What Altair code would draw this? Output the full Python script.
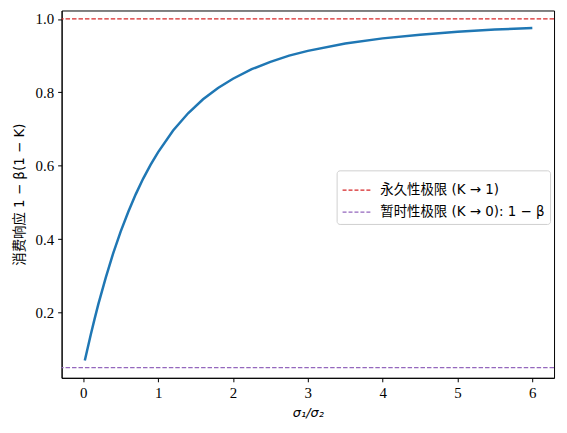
import altair as alt
import pandas as pd

# Curve
x_ratio = [0.02, 0.05, 0.1, 0.15, 0.2, 0.3, 0.4, 0.5, 0.6, 0.7, 0.8, 0.9, 1.0,
           1.2, 1.4, 1.6, 1.8, 2.0, 2.25, 2.5, 2.75, 3.0, 3.5, 4.0, 4.5, 5.0, 5.5, 6.0]
response = [0.069, 0.096, 0.140, 0.182, 0.222, 0.295, 0.362, 0.421, 0.474, 0.522,
            0.565, 0.603, 0.637, 0.696, 0.743, 0.781, 0.812, 0.837, 0.863, 0.883,
            0.900, 0.913, 0.933, 0.947, 0.957, 0.965, 0.971, 0.975]

# Reference lines
limit_names = ["永久性极限 (K → 1)", "暂时性极限 (K → 0): 1 − β"]
limit_values = [1.0, 0.05]
limit_colors = ["#d62728", "#9467bd"]

x_ticks = [0, 1, 2, 3, 4, 5, 6]
y_ticks = [0.2, 0.4, 0.6, 0.8, 1.0]

curve_df = pd.DataFrame({"x": x_ratio, "y": response})
lim_df = pd.DataFrame({"name": limit_names, "y": limit_values})

SERIF = "Liberation Serif, Noto Sans CJK SC"
MATH = "DejaVu Sans, Noto Sans CJK SC"

xs = alt.Scale(domain=[-0.29, 6.29], nice=False, zero=False)
ys = alt.Scale(domain=[0.022, 1.023], nice=False, zero=False)

curve = alt.Chart(curve_df).mark_line(color="#1f77b4", strokeWidth=2.5).encode(
    x=alt.X("x:Q", scale=xs,
            axis=alt.Axis(title="σ₁/σ₂", values=x_ticks, format="d", grid=False,
                          titlePadding=6, titleFont="DejaVu Sans",
                          titleFontStyle="italic", titleFontSize=13)),
    y=alt.Y("y:Q", scale=ys,
            axis=alt.Axis(title="消费响应 1 − β(1 − K)", values=y_ticks, format=".1f",
                          grid=False, titlePadding=9, titleFont=MATH,
                          titleFontSize=13.5)),
)

rules = alt.Chart(lim_df).mark_rule(strokeWidth=1.2, strokeDash=[4.5, 2]).encode(
    y=alt.Y("y:Q", scale=ys),
    color=alt.Color(
        "name:N",
        scale=alt.Scale(domain=limit_names, range=limit_colors),
        legend=alt.Legend(
            title=None, orient="none", legendX=277, legendY=161,
            symbolType="stroke", symbolSize=784, symbolStrokeWidth=1.2,
            symbolDash=[4, 2], labelFont=MATH, labelFontSize=13.5,
            labelLimit=400, rowPadding=-8, padding=5,
            strokeColor="#d0d0d0", fillColor="white", cornerRadius=3,
            labelOffset=9,
        ),
    ),
)

chart = alt.layer(curve, rules).properties(
    width=496, height=370,
    autosize=alt.AutoSizeParams(type="none"),
    padding={"left": 54, "top": 1, "right": 5, "bottom": 46},
).configure_view(
    stroke="black", strokeWidth=1
).configure_axis(
    domainColor="black", tickColor="black", labelColor="black", titleColor="black",
    labelFont=SERIF, labelFontSize=15,
    titleFontWeight="normal", tickSize=4, labelPadding=4,
)

chart.save("out.html", embed_options={"renderer": "svg", "actions": False})
